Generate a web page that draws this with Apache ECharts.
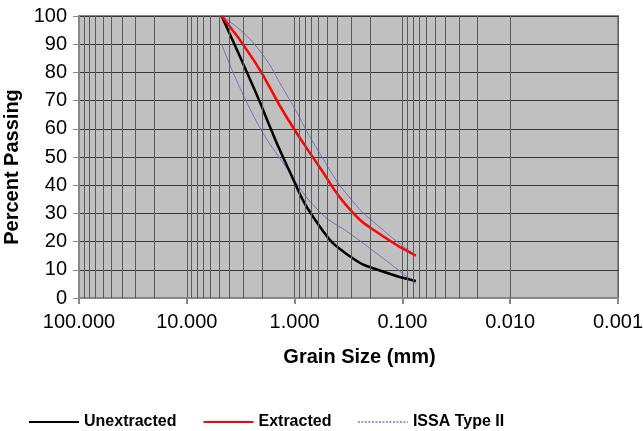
<!DOCTYPE html>
<html>
<head>
<meta charset="utf-8">
<script src="https://cdn.jsdelivr.net/npm/echarts@6/dist/echarts.min.js"></script>
<style>
  html, body { margin: 0; padding: 0; background: #fff; }
  #chart { width: 643px; height: 431px; }
</style>
</head>
<body>
<div id="chart"></div>
<script>
// sieve sizes in mm
const sizes = [4.75, 2.36, 1.18, 0.6, 0.3, 0.15, 0.075]
const unextracted = [100, 74, 47, 26, 14.5, 9.3, 6]
const extracted = [100, 84, 64, 47, 31, 21.8, 15]
const issaUpper = [100, 90, 72, 52, 35, 24, 15]
const issaLower = [90, 64, 46, 31, 22.6, 14, 5]
const yTicks = [0, 10, 20, 30, 40, 50, 60, 70, 80, 90, 100]
const decades = [10, 1, 0.1, 0.01, 0.001]
const minorSteps = [2, 3, 4, 5, 6, 7, 8, 9]

const font = "'Liberation Sans', Arial, sans-serif"

// log minor grid lines (2..9 in each decade)
const minorLines = []
decades.forEach((d) => {
  minorSteps.forEach((k) => minorLines.push({ xAxis: +(d * k).toPrecision(3) }))
})

function pairs(ys) {
  return sizes.map((s, i) => [s, ys[i]])
}

const chart = echarts.init(document.getElementById('chart'), null, { renderer: 'canvas' })

chart.setOption({
  animation: false,
  grid: {
    left: 79, right: 25, top: 16, bottom: 133,
    outerBoundsMode: 'none',
    containLabel: false,
    show: true,
    backgroundColor: '#c0c0c0',
    borderColor: '#888',
    borderWidth: 2,
  },
  legend: {
    left: 23,
    top: 409,
    itemWidth: 50,
    itemHeight: 14,
    itemGap: 26,
    itemStyle: { opacity: 0 },
    data: [
      { name: 'Unextracted' },
      { name: 'Extracted' },
      { name: 'ISSA Type II', lineStyle: { type: [2, 1.5], color: '#2828c8', width: 1 } },
    ],
    textStyle: { fontFamily: font, fontWeight: 'bold', fontSize: 16, color: '#000' },
  },
  xAxis: {
    type: 'log',
    logBase: 10,
    min: 0.001,
    max: 100,
    inverse: true,
    name: 'Grain Size (mm)',
    nameLocation: 'middle',
    nameGap: 49,
    nameTextStyle: { fontFamily: font, fontWeight: 'bold', fontSize: 20, color: '#000', padding: [0, 0, 0, 22] },
    axisLine: { lineStyle: { color: '#888', width: 2 } },
    axisTick: { show: true, length: 6, lineStyle: { color: '#888', width: 2 } },
    axisLabel: {
      fontFamily: font, fontSize: 20, color: '#000', margin: 14,
      formatter: (v) => v.toFixed(3),
    },
    splitLine: { show: true, lineStyle: { color: '#5a5a5a', width: 1 } },
  },
  yAxis: {
    type: 'value',
    min: 0,
    max: 100,
    interval: 10,
    name: 'Percent Passing',
    nameLocation: 'middle',
    nameGap: 41,
    nameTextStyle: { fontFamily: font, fontWeight: 'bold', fontSize: 20, color: '#000', padding: [0, 20, 0, 0] },
    axisLine: { show: true, lineStyle: { color: '#888', width: 2 } },
    axisTick: { show: true, length: 6, lineStyle: { color: '#888', width: 1 } },
    axisLabel: {
      fontFamily: font, fontSize: 20, color: '#000', margin: 12,
      formatter: (v) => (yTicks.includes(v) ? String(v) : ''),
    },
    splitLine: { show: true, lineStyle: { color: '#3a3a3a', width: 1 } },
  },
  series: [
    {
      name: 'grid',
      type: 'line',
      data: [],
      z: 1,
      silent: true,
      markLine: {
        silent: true,
        symbol: 'none',
        label: { show: false },
        animation: false,
        lineStyle: { color: '#5a5a5a', width: 1, type: 'solid' },
        data: minorLines,
      },
    },
    {
      name: 'ISSA Type II',
      type: 'line',
      data: pairs(issaUpper),
      smooth: 0.5,
      symbol: 'none',
      z: 3,
      lineStyle: { color: '#7474c4', width: 1 },
      itemStyle: { color: '#7474c4' },
    },
    {
      name: 'ISSA Type II',
      type: 'line',
      data: pairs(issaLower),
      smooth: 0.5,
      symbol: 'none',
      z: 3,
      lineStyle: { color: '#7474c4', width: 1 },
      itemStyle: { color: '#7474c4' },
    },
    {
      name: 'Unextracted',
      type: 'line',
      data: pairs(unextracted),
      smooth: 0.5,
      symbol: 'none',
      z: 4,
      lineStyle: { color: '#000', width: 2.5 },
      itemStyle: { color: '#000' },
    },
    {
      name: 'Extracted',
      type: 'line',
      data: pairs(extracted),
      smooth: 0.5,
      symbol: 'none',
      z: 4,
      lineStyle: { color: '#ff0000', width: 2.5 },
      itemStyle: { color: '#ff0000' },
    },
  ],
})
</script>
</body>
</html>
